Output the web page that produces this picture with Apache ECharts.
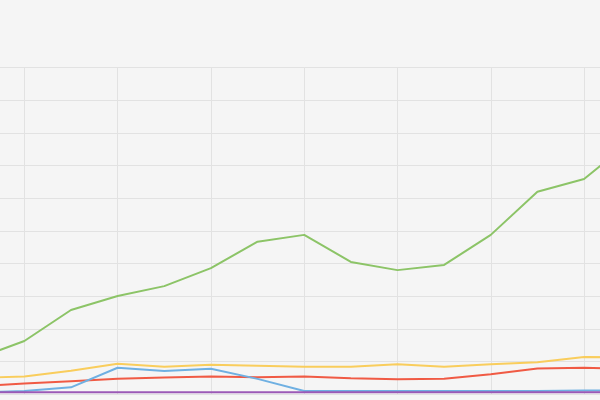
<!DOCTYPE html>
<html>
<head>
<meta charset="utf-8">
<script src="https://cdn.jsdelivr.net/npm/echarts@6/dist/echarts.min.js"></script>
<style>
  html, body { margin: 0; padding: 0; background: #f5f5f5; overflow: hidden; width: 600px; height: 400px; }
  /* the reference is a crop: plot runs past both sides, so the canvas is wider and shifted left */
  #chart { position: absolute; left: -40px; top: 0; width: 700px; height: 400px; }
</style>
</head>
<body>
<div id="chart"></div>
<script>
// categories (the reference shows no labels, so plain indices)
const categories = ['1', '2', '3', '4', '5', '6', '7', '8', '9', '10', '11', '12', '13', '14', '15'];

const greenValues = [11.0, 16.3, 25.8, 30.1, 33.1, 38.6, 46.7, 48.8, 40.5, 38.0, 39.6, 48.8, 62.0, 65.9, 77.5];
const yellowValues = [5.0, 5.4, 7.2, 9.3, 8.4, 9.0, 8.7, 8.4, 8.4, 9.2, 8.4, 9.2, 9.8, 11.4, 11.3];
const redValues = [2.4, 3.3, 4.0, 4.7, 5.1, 5.4, 5.2, 5.4, 4.9, 4.6, 4.7, 6.1, 7.9, 8.1, 7.7];
const blueValues = [0.5, 1.0, 2.1, 8.1, 7.1, 7.8, 4.7, 1.0, 1.0, 1.0, 1.0, 1.0, 1.0, 1.1, 1.1];
const purpleValues = [0.6, 0.6, 0.6, 0.6, 0.6, 0.6, 0.6, 0.6, 0.6, 0.6, 0.6, 0.6, 0.6, 0.6, 0.6];

const chart = echarts.init(document.getElementById('chart'));

const line = (name, data, color) => ({
    name: name,
    type: 'line',
    data: data,
    symbol: 'none',
    lineStyle: {width: 2, color: color},
    itemStyle: {color: color}
});

chart.setOption({
    animation: false,
    backgroundColor: '#f5f5f5',
    grid: {
        left: 17.7,
        right: 29.3,
        top: 67.7,
        bottom: 5.8
    },
    xAxis: {
        type: 'category',
        boundaryGap: false,
        data: categories,
        axisLine: {show: false},
        axisTick: {show: false},
        axisLabel: {show: false},
        splitLine: {
            show: true,
            interval: (idx) => idx % 2 === 1,
            lineStyle: {color: '#e2e2e2', width: 1}
        }
    },
    yAxis: {
        type: 'value',
        min: 0,
        max: 100,
        interval: 10,
        axisLine: {show: false},
        axisTick: {show: false},
        axisLabel: {show: false},
        splitLine: {
            show: true,
            lineStyle: {color: '#e2e2e2', width: 1}
        }
    },
    series: [
        line('A', greenValues, '#8cc467'),
        line('B', yellowValues, '#f9cd5c'),
        line('C', redValues, '#f05a44'),
        line('D', blueValues, '#6fb0e2'),
        line('E', purpleValues, '#9b59b6')
    ]
});
</script>
</body>
</html>
